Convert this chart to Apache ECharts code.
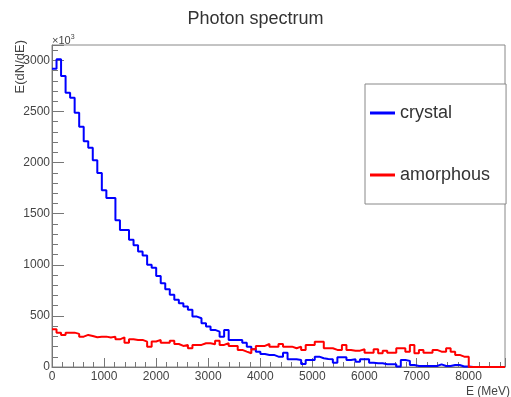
<!DOCTYPE html>
<html>
<head>
<meta charset="utf-8">
<script src="https://cdn.jsdelivr.net/npm/echarts@6/dist/echarts.min.js"></script>
<style>
  html, body { margin: 0; padding: 0; background: #fff; }
  #main { width: 511px; height: 397px; }
</style>
</head>
<body>
<div id="main"></div>
<script>
// histogram binning: 100 bins of 87 MeV, 0 - 8700 MeV
const binWidth = 87;
const binCount = 100;

const crystal = [
  2918, 3010, 2846, 2683, 2634, 2487, 2350, 2209, 2144, 2023,
  1899, 1729, 1654, 1654, 1435, 1340, 1340, 1245, 1190, 1130,
  1090, 1000, 970, 890, 820, 760, 706, 657, 624, 591,
  559, 493, 477, 428, 395, 363, 346, 297, 363, 265,
  265, 265, 238, 199, 173, 150, 127, 118, 118, 101,
  101, 140, 75, 75, 69, 29, 69, 69, 101, 85,
  78, 75, 42, 95, 95, 69, 75, 52, 75, 75,
  42, 36, 36, 26, 26, 26, 5, 69, 60, 20,
  10, 10, 10, 10, 10, 26, 10, 10, 20, 20,
  5, 5, 0, 0, 0, 0, 0, 0, 0, 0
];

const amorphous = [
  369, 336, 314, 336, 336, 324, 297, 314, 304, 291,
  297, 297, 288, 297, 271, 290, 238, 271, 265, 265,
  248, 199, 250, 265, 238, 238, 258, 225, 206, 216,
  183, 216, 216, 232, 232, 222, 258, 216, 232, 206,
  206, 167, 150, 134, 173, 206, 206, 225, 199, 199,
  225, 199, 199, 183, 199, 167, 216, 216, 248, 248,
  183, 183, 167, 167, 216, 167, 160, 160, 173, 140,
  140, 173, 134, 160, 140, 140, 183, 183, 150, 216,
  134, 167, 140, 140, 167, 150, 150, 183, 150, 118,
  101, 101, 0, 0, 0, 0, 0, 0, 0, 0
];

const xLabels = [0, 1000, 2000, 3000, 4000, 5000, 6000, 7000, 8000];
const yLabels = [0, 500, 1000, 1500, 2000, 2500, 3000];

const font = "'Liberation Sans', Arial, sans-serif";

// turn bin contents into [edge, value] points for a step line
function toSteps(values) {
  let points = [];
  for (let i = 0; i < binCount; i++) {
    points.push([i * binWidth, values[i]]);
  }
  points.push([binCount * binWidth, values[binCount - 1]]);
  return points;
}

function histSeries(name, values, color) {
  return {
    name: name,
    type: 'line',
    step: 'end',
    data: toSteps(values),
    showSymbol: false,
    symbol: 'none',
    color: color,
    lineStyle: { color: color, width: 2 }
  };
}

let chart = echarts.init(document.getElementById('main'), null, { renderer: 'canvas' });

let options = {
  animation: false,
  backgroundColor: '#fff',
  title: {
    text: 'Photon spectrum',
    left: 'center',
    top: 5,
    textStyle: { fontFamily: font, fontSize: 18, fontWeight: 'normal', color: '#333' }
  },
  grid: {
    left: 52,
    right: 6,
    top: 45,
    bottom: 30,
    show: true,
    borderColor: '#888',
    borderWidth: 1,
    backgroundColor: '#fff'
  },
  legend: {
    data: ['crystal', 'amorphous'],
    orient: 'vertical',
    left: 365,
    top: 84,
    padding: [20, 16, 20, 5],
    itemGap: 44,
    itemWidth: 25,
    itemHeight: 3,
    icon: 'rect',
    backgroundColor: '#fff',
    borderColor: '#888',
    borderWidth: 1,
    textStyle: { fontFamily: font, fontSize: 18, color: '#333' }
  },
  xAxis: {
    type: 'value',
    min: 0,
    max: binCount * binWidth,
    interval: 1000,
    splitLine: { show: false },
    axisLine: { lineStyle: { color: '#777' } },
    axisTick: { inside: true, length: 9, lineStyle: { color: '#777' } },
    minorTick: { show: true, splitNumber: 5, length: 5, lineStyle: { color: '#777' } },
    axisLabel: {
      margin: 4,
      fontFamily: font,
      fontSize: 12,
      color: '#444',
      showMaxLabel: false,
      formatter: function (v) { return xLabels.indexOf(v) >= 0 ? String(v) : ''; }
    }
  },
  yAxis: {
    type: 'value',
    min: 0,
    max: 3150,
    interval: 500,
    splitLine: { show: false },
    axisLine: { show: true, lineStyle: { color: '#777' } },
    axisTick: { show: true, inside: true, length: 12, lineStyle: { color: '#777' } },
    minorTick: { show: true, splitNumber: 5, length: 6, lineStyle: { color: '#777' } },
    axisLabel: {
      margin: 2,
      fontFamily: font,
      fontSize: 12,
      color: '#444',
      showMaxLabel: false,
      formatter: function (v) { return yLabels.indexOf(v) >= 0 ? String(v) : ''; }
    }
  },
  graphic: [
    {
      type: 'text',
      x: 20,
      y: 40,
      rotation: Math.PI / 2,
      style: {
        text: 'E(dN/dE)',
        fontFamily: font,
        fontSize: 13,
        fill: '#444',
        align: 'right',
        verticalAlign: 'middle'
      }
    },
    {
      type: 'text',
      x: 52,
      y: 34,
      style: {
        text: '×10{s|3}',
        fontFamily: font,
        fontSize: 11,
        fill: '#444',
        rich: { s: { fontSize: 7, verticalAlign: 'top', padding: [0, 0, 6, 0], fill: '#444' } }
      }
    },
    {
      type: 'text',
      x: 510,
      y: 392,
      style: {
        text: 'E (MeV)',
        fontFamily: font,
        fontSize: 12,
        fill: '#444',
        align: 'right',
        verticalAlign: 'middle'
      }
    }
  ],
  series: [
    histSeries('crystal', crystal, '#0000ff'),
    histSeries('amorphous', amorphous, '#ff0000')
  ]
};

chart.setOption(options);
</script>
</body>
</html>
